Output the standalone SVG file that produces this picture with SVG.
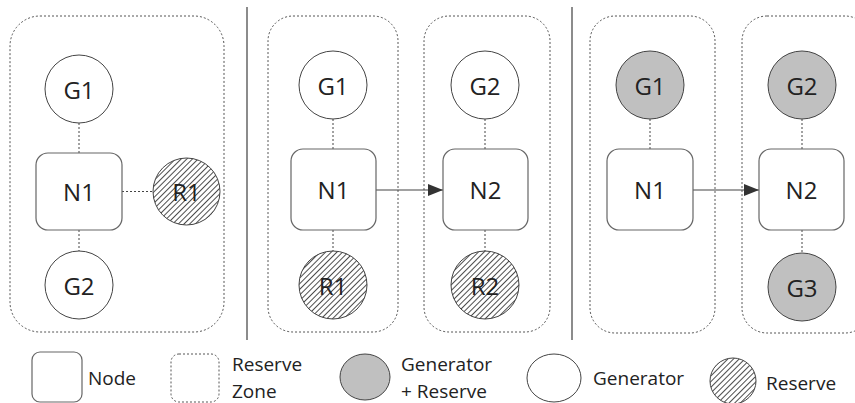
<svg xmlns="http://www.w3.org/2000/svg" width="855" height="403" viewBox="0 0 855 403">
<defs>
<pattern id="hatch" patternUnits="userSpaceOnUse" width="4" height="4" patternTransform="rotate(45)">
<rect width="4" height="4" fill="#fff"/>
<line x1="0" y1="0" x2="0" y2="4" stroke="#000" stroke-width="1.4"/>
</pattern>
<marker id="arr" markerWidth="16" markerHeight="12" refX="15" refY="6" orient="auto" markerUnits="userSpaceOnUse">
<path d="M0,0 L15,6 L0,12 Z" fill="#333"/>
</marker>
<style>
.zone{fill:none;stroke:#555;stroke-width:1;stroke-dasharray:2 2}
.node{fill:#fff;stroke:#666;stroke-width:1.2}
.gen{fill:#fff;stroke:#444;stroke-width:1}
.gr{fill:#c0c0c0;stroke:#444;stroke-width:1}
.res{fill:url(#hatch);stroke:#444;stroke-width:1}
.link{stroke:#444;stroke-width:1;stroke-dasharray:2 2;fill:none}
.flow{stroke:#444;stroke-width:1.2;fill:none}
.sep{stroke:#666;stroke-width:1.5}
.lbl{font-family:"Open Sans","DejaVu Sans",sans-serif;font-size:24px;fill:#222;text-anchor:middle;dominant-baseline:central}
.leg{font-family:"Open Sans","DejaVu Sans",sans-serif;font-size:19px;fill:#222}
</style>
</defs>
<rect width="855" height="403" fill="#fff"/>
<g id="separators">
<line class="sep" x1="247" y1="7" x2="247" y2="340"/>
<line class="sep" x1="572" y1="7" x2="572" y2="340"/>
</g>
<g id="zones">
<rect id="zone-p1" class="zone" x="10" y="16" width="214" height="316" rx="30"/>
<rect id="zone-p2a" class="zone" x="268" y="16" width="130" height="316" rx="25"/>
<rect id="zone-p2b" class="zone" x="424" y="16" width="126" height="316" rx="25"/>
<rect id="zone-p3a" class="zone" x="590" y="16" width="125" height="317" rx="25"/>
<rect id="zone-p3b" class="zone" x="742" y="16" width="128" height="317" rx="25"/>
</g>
<g id="connectors">
<line class="link" x1="79" y1="123" x2="79" y2="153"/>
<line class="link" x1="79" y1="230" x2="79" y2="251"/>
<line class="link" x1="122" y1="191.5" x2="153" y2="191.5"/>
<line class="link" x1="333" y1="119" x2="333" y2="149"/>
<line class="link" x1="333" y1="230" x2="333" y2="251"/>
<line class="link" x1="485" y1="119" x2="485" y2="149"/>
<line class="link" x1="485" y1="230" x2="485" y2="251"/>
<line class="flow" x1="376" y1="190" x2="443" y2="190" marker-end="url(#arr)"/>
<line class="link" x1="650" y1="119" x2="650" y2="149"/>
<line class="link" x1="802" y1="119" x2="802" y2="149"/>
<line class="link" x1="802" y1="230" x2="802" y2="253"/>
<line class="flow" x1="693" y1="190" x2="759" y2="190" marker-end="url(#arr)"/>
</g>
<g id="p1-G1"><circle class="gen" cx="79" cy="89" r="34"/><text class="lbl" x="79" y="89">G1</text></g>
<g id="p1-N1"><rect class="node" x="36" y="153" width="86" height="77" rx="12"/><text class="lbl" x="79" y="191.5">N1</text></g>
<g id="p1-R1"><circle class="res" cx="186.5" cy="191.5" r="33.5"/><text class="lbl" x="186.5" y="191.5">R1</text></g>
<g id="p1-G2"><circle class="gen" cx="79" cy="285" r="34"/><text class="lbl" x="79" y="285">G2</text></g>
<g id="p2-G1"><circle class="gen" cx="333" cy="85" r="34"/><text class="lbl" x="333" y="85">G1</text></g>
<g id="p2-N1"><rect class="node" x="291" y="149" width="85" height="81" rx="12"/><text class="lbl" x="333.5" y="189.5">N1</text></g>
<g id="p2-R1"><circle class="res" cx="333" cy="285" r="34"/><text class="lbl" x="333" y="285">R1</text></g>
<g id="p2-G2"><circle class="gen" cx="485" cy="85" r="34"/><text class="lbl" x="485" y="85">G2</text></g>
<g id="p2-N2"><rect class="node" x="443" y="149" width="85" height="81" rx="12"/><text class="lbl" x="485.5" y="189.5">N2</text></g>
<g id="p2-R2"><circle class="res" cx="485" cy="285" r="34"/><text class="lbl" x="485" y="285">R2</text></g>
<g id="p3-G1"><circle class="gr" cx="650" cy="85" r="34"/><text class="lbl" x="650" y="85">G1</text></g>
<g id="p3-N1"><rect class="node" x="607" y="149" width="86" height="81" rx="12"/><text class="lbl" x="650" y="189.5">N1</text></g>
<g id="p3-G2"><circle class="gr" cx="802" cy="85" r="34"/><text class="lbl" x="802" y="85">G2</text></g>
<g id="p3-N2"><rect class="node" x="759" y="149" width="85" height="81" rx="12"/><text class="lbl" x="801.5" y="189.5">N2</text></g>
<g id="p3-G3"><circle class="gr" cx="802" cy="287" r="34"/><text class="lbl" x="802" y="287">G3</text></g>
<g id="legend">
<rect class="node" x="32" y="352" width="50" height="50" rx="8"/>
<text class="leg" x="88" y="385">Node</text>
<rect class="zone" x="171" y="354" width="48" height="48" rx="8"/>
<text class="leg" x="232" y="371">Reserve</text>
<text class="leg" x="232" y="397.5">Zone</text>
<ellipse class="gr" cx="365" cy="377" rx="25" ry="23"/>
<text class="leg" x="401" y="371">Generator</text>
<text class="leg" x="401" y="397.5">+ Reserve</text>
<ellipse class="gen" cx="554" cy="378" rx="27" ry="24"/>
<text class="leg" x="593" y="385">Generator</text>
<circle class="res" cx="733" cy="381" r="23"/>
<text class="leg" x="766" y="390">Reserve</text>
</g>
</svg>
